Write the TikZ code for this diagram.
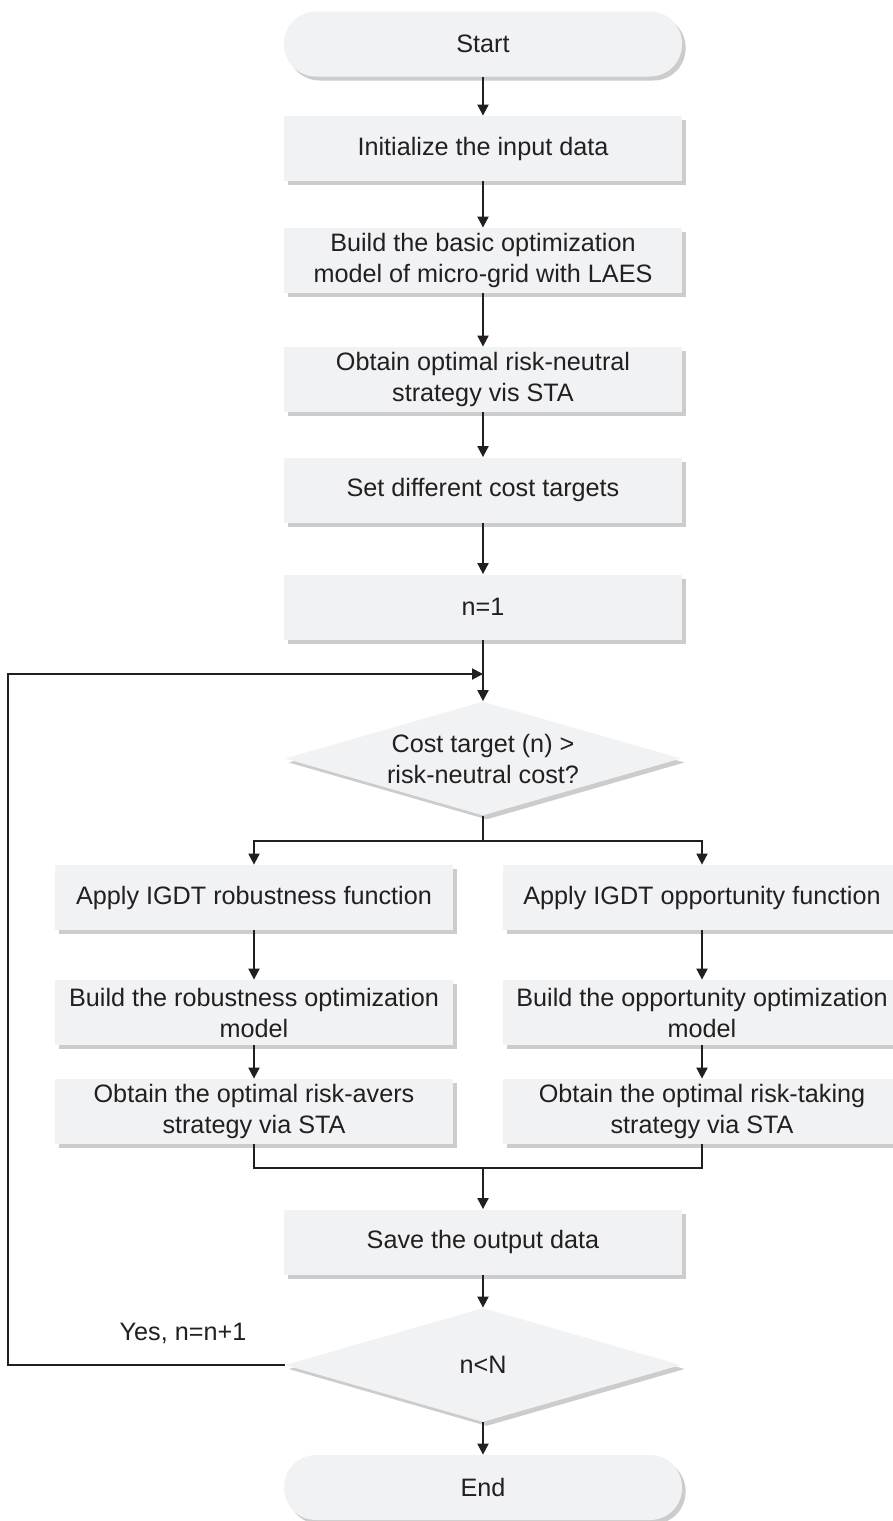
\documentclass[tikz,border=0pt]{standalone}
\usepackage{fontspec}
\setmainfont{Liberation Sans}
\usepackage{tikz}
\usetikzlibrary{shapes.geometric,shadows,arrows.meta}
\definecolor{boxfill}{HTML}{F1F2F4}
\definecolor{ink}{HTML}{231F20}

\begin{document}
\begin{tikzpicture}[x=0.5pt,y=-0.5pt,
    every node/.style={text=ink,font=\fontsize{12.6}{15.5}\selectfont,align=center},
    shade/.style={fill=boxfill,draw=none,
       drop shadow={shadow xshift=1.8pt,shadow yshift=-2pt,fill=black!40,opacity=0.5}},
    box/.style={shade,rectangle,minimum width=199pt,minimum height=32.5pt,inner sep=2pt},
    pill/.style={box,rounded corners=16pt},
    choice/.style={shade,diamond,aspect=3.5,minimum width=198pt,minimum height=57pt,inner sep=0pt},
    line/.style={draw=ink,line width=0.95pt},
    arr/.style={line,-{Triangle[length=5.5pt,width=5.5pt]}}]
     \useasboundingbox (0,0) rectangle (893,1521);
     \node[pill](start) at (483,44) {Start};
     \node[box](init) at (483,148.5) {Initialize the input data};
     \node[box](basic) at (483,260.5)
        {Build the basic optimization\\model of micro-grid with LAES};
     \node[box](neutral) at (483,379.5)
        {Obtain optimal risk-neutral\\strategy vis STA};
     \node[box](targets) at (483,490) {Set different cost targets};
     \node[box](first) at (483,607) {n=1};
     \node[choice](decide) at (483,758.5)
        {Cost target (n) >\\risk-neutral cost?};
     \node[box](robA) at (254,897.5) {Apply IGDT robustness function};
     \node[box](robB) at (254,1012.5)
        {Build the robustness optimization\\model};
     \node[box](robC) at (254,1111.5)
        {Obtain the optimal risk-avers\\strategy via STA};
     \node[box](oppA) at (702,897.5) {Apply IGDT opportunity function};
     \node[box](oppB) at (702,1012.5)
        {Build the opportunity optimization\\model};
     \node[box](oppC) at (702,1111.5)
        {Obtain the optimal risk-taking\\strategy via STA};
     \node[box](save) at (483,1242) {Save the output data};
     \node[choice](check) at (483,1365) {n<N};
     \node[pill](stop) at (483,1487.5) {End};
     \node(yes) at (183,1333) {Yes, n=n+1};
     \coordinate(join) at (483,674);
     \coordinate(merge) at (483,1168);

     \draw[arr] (start) -- (init);
     \draw[arr] (init) -- (basic);
     \draw[arr] (basic) -- (neutral);
     \draw[arr] (neutral) -- (targets);
     \draw[arr] (targets) -- (first);
     \draw[arr] (first) -- (decide);
     \draw[arr]
        (check.west) -- ++(-277,0) |- (join);
     \draw[arr] (decide.south) -- ++(0,25) -| (robA.north);
     \draw[arr] (decide.south) -- ++(0,25) -| (oppA.north);
     \draw[arr] (robA) -- (robB);
     \draw[arr] (robB) -- (robC);
     \draw[arr] (oppA) -- (oppB);
     \draw[arr] (oppB) -- (oppC);
     \draw[line]
        (robC.south) -- ++(0,24) -| (oppC.south);
     \draw[arr] (merge) -- (save);
     \draw[arr] (save) -- (check);
     \draw[arr] (check) -- (stop);
\end{tikzpicture}
\end{document}
